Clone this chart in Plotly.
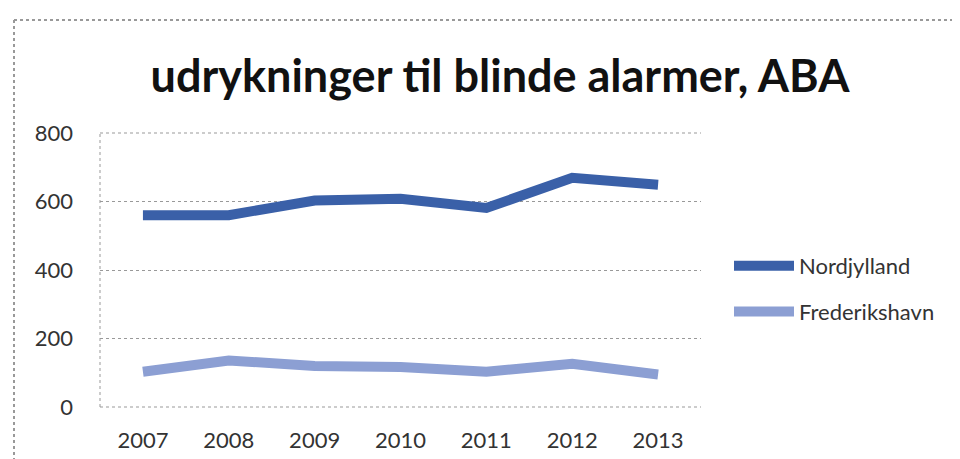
import plotly.graph_objects as go

years = ["2007", "2008", "2009", "2010", "2011", "2012", "2013"]
nordjylland = [560, 560, 603, 608, 581, 669, 649]
frederikshavn = [103, 136, 120, 117, 103, 126, 95]
y_ticks = [0, 200, 400, 600, 800]

fig = go.Figure()
fig.add_trace(go.Scatter(x=years, y=nordjylland, mode="lines", name="Nordjylland",
                         legendgroup="a",
                         line=dict(color="#3A60A8", width=10)))
fig.add_trace(go.Scatter(x=years, y=frederikshavn, mode="lines", name="Frederikshavn",
                         legendgroup="b",
                         line=dict(color="#8C9FD3", width=10)))

L, R, T, B = 92, 693, 125, 399
W, H = 960, 459

def px2paper_x(px):
    return (px - L) / (R - L)

def px2paper_y(py):
    return (B - py) / (B - T)

fig.update_layout(
    width=W, height=H,
    margin=dict(l=L, r=W - R, t=T, b=H - B, autoexpand=False),
    paper_bgcolor="white", plot_bgcolor="white",
    font=dict(family="Lato", color="#333333", size=22),
    title=dict(text="<b>udrykninger til blinde alarmer, ABA</b>", x=492 / W, xanchor="center",
               xref="container",
               y=1 - 68 / H, yanchor="middle", font=dict(size=45, color="#111111", family="Lato")),
    showlegend=True,
    legend=dict(x=px2paper_x(721), y=px2paper_y(281), xanchor="left", yanchor="middle",
                font=dict(size=22, color="#333333"), tracegroupgap=14, itemwidth=60,
                bgcolor="rgba(0,0,0,0)"),
    xaxis=dict(showgrid=False, showline=False, ticks="", tickfont=dict(size=22),
               range=[-0.5, 6.5], fixedrange=True, automargin=False, ticklabelstandoff=18),
    yaxis=dict(range=[0, 800], tickvals=y_ticks, showgrid=True, gridcolor="#999999",
               griddash="dot", gridwidth=1, zeroline=False, showline=False,
               ticks="", tickfont=dict(size=22), ticklabelstandoff=26, automargin=False),
)

dot = dict(color="#999999", width=1, dash="dot")
# axis frame lines (dotted)
fig.add_shape(type="line", xref="paper", yref="paper", x0=0, x1=0, y0=0, y1=1, line=dot)
fig.add_shape(type="line", xref="paper", yref="paper", x0=0, x1=1, y0=0, y1=0, line=dot)
fig.add_shape(type="line", xref="paper", yref="paper", x0=0, x1=1, y0=1, y1=1, line=dot)
# outer dashed chart border
fig.add_shape(type="line", xref="paper", yref="paper", x0=px2paper_x(6), x1=px2paper_x(960),
              y0=px2paper_y(12), y1=px2paper_y(12), line=dict(color="#999999", width=2, dash="dot"))
fig.add_shape(type="line", xref="paper", yref="paper", x0=px2paper_x(6), x1=px2paper_x(6),
              y0=px2paper_y(12), y1=px2paper_y(459), line=dict(color="#999999", width=2, dash="dot"))

fig.write_html("out.html")
